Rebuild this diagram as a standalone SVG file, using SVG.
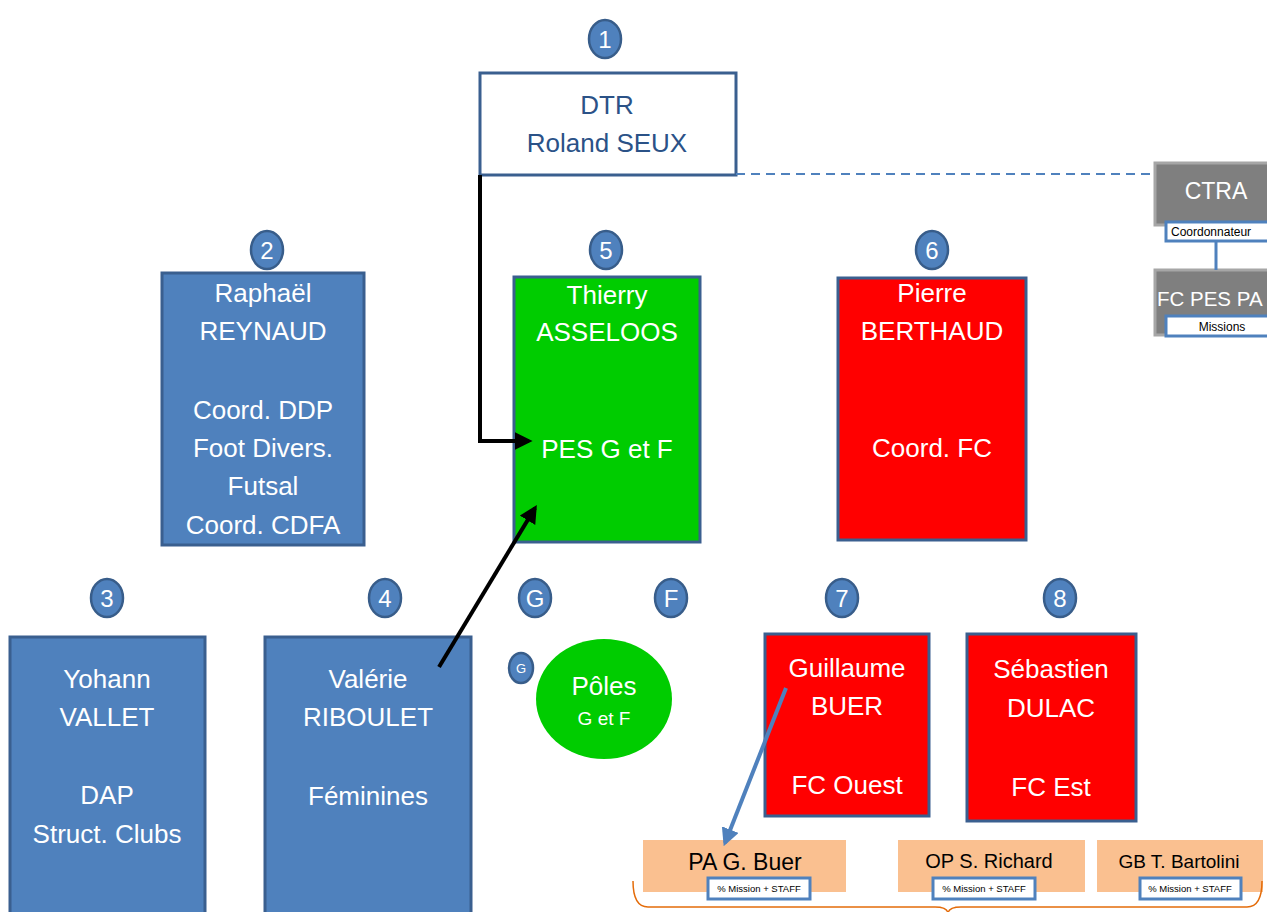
<svg xmlns="http://www.w3.org/2000/svg" width="1267" height="912" viewBox="0 0 1267 912">
<defs>
<style>
text{font-family:"Liberation Sans",Arial,sans-serif;text-anchor:middle}
.badge ellipse{fill:#4f81bd;stroke:#385d8a;stroke-width:2.5}
.badge text{fill:#fff;font-size:24px}
.blue{fill:#4f81bd;stroke:#3a5f8f;stroke-width:3}
.green{fill:#00cc00;stroke:#3a5f8f;stroke-width:3}
.red{fill:#ff0000;stroke:#3a5f8f;stroke-width:3}
.grey{fill:#7f7f7f;stroke:#a6a6a6;stroke-width:3}
.orange{fill:#fac090}
.lbl{fill:#fff;stroke:#4f81bd;stroke-width:3}
.w{fill:#fff;font-size:26px}
.small{fill:#000;font-size:9.5px}
</style>
<marker id="ab2" viewBox="0 0 10 10" refX="8" refY="5" markerWidth="18" markerHeight="18" orient="auto" markerUnits="userSpaceOnUse"><path d="M0,0 L10,5 L0,10 z" fill="#000"/></marker>
<marker id="ablue2" viewBox="0 0 10 10" refX="8" refY="5" markerWidth="18" markerHeight="18" orient="auto" markerUnits="userSpaceOnUse"><path d="M0,0 L10,5 L0,10 z" fill="#4f81bd"/></marker>
</defs>
<rect width="1267" height="912" fill="#fff"/>

<g id="n1">
<g class="badge"><ellipse cx="605" cy="39" rx="16" ry="19"/><text x="605" y="48">1</text></g>
<rect x="480" y="73" width="256" height="102" fill="#fff" stroke="#3a5f8f" stroke-width="3"/>
<text x="607" y="114" font-size="26" fill="#2b5287">DTR</text>
<text x="607" y="152" font-size="26" fill="#2b5287">Roland SEUX</text>
</g>

<g id="ctra">
<rect class="grey" x="1155" y="163" width="115" height="62"/>
<text x="1216" y="199" font-size="23" fill="#fff">CTRA</text>
<rect class="lbl" x="1166" y="222" width="104" height="19"/>
<text x="1171" y="236" font-size="12" fill="#000" style="text-anchor:start">Coordonnateur</text>
</g>

<g id="fcpes">
<rect class="grey" x="1155" y="270" width="115" height="65"/>
<text x="1157" y="306" font-size="20.5" fill="#fff" style="text-anchor:start">FC PES PA</text>
<rect class="lbl" x="1166" y="316" width="104" height="20"/>
<text x="1222" y="331" font-size="12" fill="#000">Missions</text>
</g>

<g id="n2">
<g class="badge"><ellipse cx="267" cy="250" rx="16" ry="19"/><text x="267" y="259">2</text></g>
<rect class="blue" x="162" y="273" width="202" height="272"/>
<text class="w" x="263" y="302">Raphaël</text>
<text class="w" x="263" y="340">REYNAUD</text>
<text class="w" x="263" y="419">Coord. DDP</text>
<text class="w" x="263" y="457">Foot Divers.</text>
<text class="w" x="263" y="495">Futsal</text>
<text class="w" x="263" y="534">Coord. CDFA</text>
</g>

<g id="n5">
<g class="badge"><ellipse cx="606" cy="250" rx="16" ry="19"/><text x="606" y="259">5</text></g>
<rect class="green" x="514" y="277" width="186" height="265"/>
<text class="w" x="607" y="304">Thierry</text>
<text class="w" x="607" y="341">ASSELOOS</text>
<text class="w" x="607" y="458">PES G et F</text>
</g>

<g id="n6">
<g class="badge"><ellipse cx="932" cy="250" rx="16" ry="19"/><text x="932" y="259">6</text></g>
<rect class="red" x="838" y="278" width="188" height="262"/>
<text class="w" x="932" y="302">Pierre</text>
<text class="w" x="932" y="340">BERTHAUD</text>
<text class="w" x="932" y="457">Coord. FC</text>
</g>

<g id="n3">
<g class="badge"><ellipse cx="107" cy="598" rx="16" ry="19"/><text x="107" y="607">3</text></g>
<rect class="blue" x="10" y="637" width="195" height="280"/>
<text class="w" x="107" y="688">Yohann</text>
<text class="w" x="107" y="726">VALLET</text>
<text class="w" x="107" y="804">DAP</text>
<text class="w" x="107" y="843">Struct. Clubs</text>
</g>

<g id="n4">
<g class="badge"><ellipse cx="385" cy="598" rx="16" ry="19"/><text x="385" y="607">4</text></g>
<rect class="blue" x="265" y="637" width="206" height="280"/>
<text class="w" x="368" y="688">Valérie</text>
<text class="w" x="368" y="726">RIBOULET</text>
<text class="w" x="368" y="805">Féminines</text>
</g>

<g id="poles">
<g class="badge"><ellipse cx="535" cy="598" rx="16" ry="19"/><text x="535" y="607">G</text></g>
<g class="badge"><ellipse cx="671" cy="598" rx="16" ry="19"/><text x="671" y="607">F</text></g>
<g class="badge"><ellipse cx="521" cy="668" rx="12" ry="15"/><text x="521" y="673" style="font-size:13px">G</text></g>
<ellipse cx="604" cy="699" rx="68" ry="60" fill="#00cc00"/>
<text x="604" y="695" font-size="26" fill="#fff">Pôles</text>
<text x="604" y="725" font-size="19" fill="#fff">G et F</text>
</g>

<g id="n7">
<g class="badge"><ellipse cx="842" cy="598" rx="16" ry="19"/><text x="842" y="607">7</text></g>
<rect class="red" x="765" y="634" width="164" height="182"/>
<text class="w" x="847" y="677">Guillaume</text>
<text class="w" x="847" y="715">BUER</text>
<text class="w" x="847" y="794">FC Ouest</text>
</g>

<g id="n8">
<g class="badge"><ellipse cx="1060" cy="598" rx="16" ry="19"/><text x="1060" y="607">8</text></g>
<rect class="red" x="967" y="634" width="169" height="187"/>
<text class="w" x="1051" y="678">Sébastien</text>
<text class="w" x="1051" y="717">DULAC</text>
<text class="w" x="1051" y="796">FC Est</text>
</g>

<g id="pa">
<rect class="orange" x="643" y="840" width="203" height="52"/>
<text x="745" y="870" font-size="23" fill="#000">PA G. Buer</text>
<rect class="lbl" x="708" y="878" width="102" height="21"/>
<text class="small" x="759" y="892">% Mission + STAFF</text>
</g>

<g id="op">
<rect class="orange" x="898" y="840" width="187" height="52"/>
<text x="989" y="868" font-size="20" fill="#000">OP S. Richard</text>
<rect class="lbl" x="933" y="878" width="102" height="21"/>
<text class="small" x="984" y="892">% Mission + STAFF</text>
</g>

<g id="gb">
<rect class="orange" x="1097" y="840" width="166" height="52"/>
<text x="1179" y="868" font-size="19" fill="#000">GB T. Bartolini</text>
<rect class="lbl" x="1140" y="878" width="101" height="21"/>
<text class="small" x="1190" y="892">% Mission + STAFF</text>
</g>

<g id="connectors">
<line x1="736" y1="174" x2="1155" y2="174" stroke="#4f81bd" stroke-width="2" stroke-dasharray="9,6"/>
<line x1="1216" y1="241" x2="1216" y2="270" stroke="#4f81bd" stroke-width="3"/>
<path d="M480,175 L480,441 L529,441" fill="none" stroke="#000" stroke-width="4" marker-end="url(#ab2)"/>
<line x1="439" y1="667" x2="535" y2="508" stroke="#000" stroke-width="4" marker-end="url(#ab2)"/>
<line x1="786" y1="688" x2="725" y2="843" stroke="#4f81bd" stroke-width="4" marker-end="url(#ablue2)"/>
<path d="M633,881 Q633,907 648,907 L935,907 Q947,907 948,913 Q949,907 961,907 L1247,907 Q1262,907 1262,881" fill="none" stroke="#e46c0a" stroke-width="1.5"/>
</g>
</svg>
